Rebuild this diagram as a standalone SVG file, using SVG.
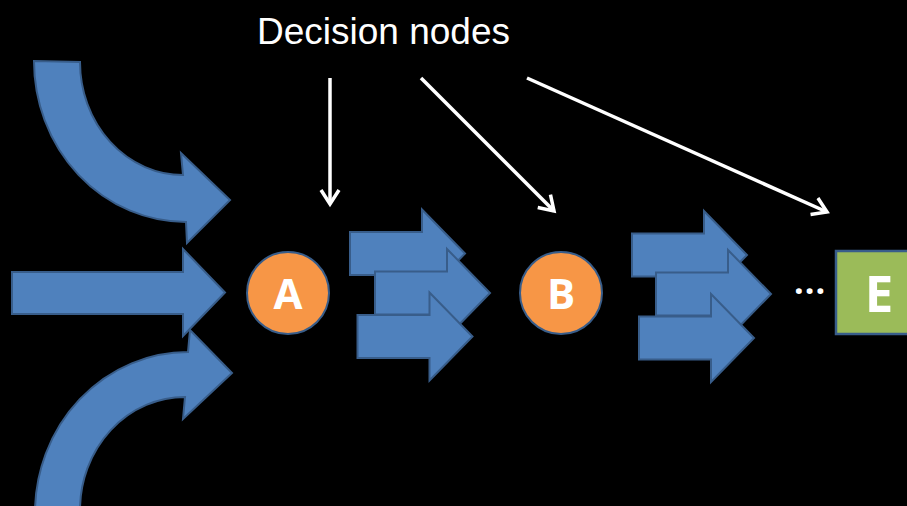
<svg xmlns="http://www.w3.org/2000/svg" xmlns:xlink="http://www.w3.org/1999/xlink" width="907" height="506" viewBox="0 0 907 506">
  <style>
    .flow { fill: #4F81BD; stroke: #385D8A; stroke-width: 2; stroke-linejoin: miter; }
    .pointer { fill: none; stroke: #FFFFFF; stroke-width: 3.5; }
    .node-circle { fill: #F79646; stroke: #385D8A; stroke-width: 2; }
    .node-box { fill: #9BBB59; stroke: #385D8A; stroke-width: 2.5; }
    .node-label { fill: #FFFFFF; font-family: "Open Sans", "Liberation Sans", sans-serif; font-weight: bold; text-anchor: middle; }
    .title { fill: #FFFFFF; font-family: "Liberation Sans", Arial, sans-serif; font-size: 37px; }
  </style>
  <defs>
    <!-- short block arrow used in the transition bundles -->
    <path id="blockArrow" d="M0,-21.5 L72,-21.5 L72,-44 L115,0 L72,44 L72,21.5 L0,21.5 Z"/>
    <marker id="openHead" markerUnits="userSpaceOnUse" markerWidth="20" markerHeight="22" viewBox="0 0 20 22" refX="15" refY="11" orient="auto">
      <path d="M1,2 L15,11 L1,20" fill="none" stroke="#FFFFFF" stroke-width="3.5" stroke-linejoin="miter"/>
    </marker>
  </defs>

  <rect x="0" y="0" width="907" height="506" fill="#000000"/>

  <!-- incoming flows on the left -->
  <g id="inflow-top">
    <path class="flow" d="M34,61 L80,62 A103,113 0 0 0 183,175 L181,153 L230,200 L187,243 L186,222 A152,161 0 0 1 34,61 Z"/>
  </g>
  <g id="inflow-middle">
    <path class="flow" d="M12,272 L183,272 L183,249 L225,292.5 L183,336 L183,314 L12,314 Z"/>
  </g>
  <g id="inflow-bottom">
    <path class="flow" d="M35,520 L35,513 A153,161 0 0 1 188,352 L190,330 L232,373 L183,419 L185,397 A105,113 0 0 0 80,510 L80,520 Z"/>
  </g>

  <!-- transitions A -> B -->
  <g id="bundle-ab">
    <use xlink:href="#blockArrow" class="flow" transform="translate(350,253.5)"/>
    <use xlink:href="#blockArrow" class="flow" transform="translate(375,293)"/>
    <use xlink:href="#blockArrow" class="flow" transform="translate(357.5,336.5)"/>
  </g>

  <!-- transitions B -> ... -->
  <g id="bundle-be">
    <use xlink:href="#blockArrow" class="flow" transform="translate(632,255)"/>
    <use xlink:href="#blockArrow" class="flow" transform="translate(656,294)"/>
    <use xlink:href="#blockArrow" class="flow" transform="translate(639,338)"/>
  </g>

  <g id="node-a">
    <circle class="node-circle" cx="288" cy="293" r="41"/>
    <text class="node-label" x="288" y="309" font-size="42">A</text>
  </g>

  <g id="node-b">
    <circle class="node-circle" cx="561" cy="293" r="41"/>
    <text class="node-label" x="561" y="308.5" font-size="42">B</text>
  </g>

  <g id="ellipsis">
    <text x="794" y="294" fill="#FFFFFF" font-family="Open Sans, Liberation Sans, sans-serif" font-weight="bold" font-size="34" letter-spacing="1">...</text>
  </g>

  <g id="node-e">
    <rect class="node-box" x="836" y="251" width="80" height="83"/>
    <text class="node-label" x="879" y="312" font-size="51">E</text>
  </g>

  <g id="label">
    <text class="title" x="257" y="44">Decision nodes</text>
  </g>

  <g id="connectors">
    <line class="pointer" x1="330" y1="78" x2="330" y2="204" marker-end="url(#openHead)"/>
    <line class="pointer" x1="421" y1="78" x2="554" y2="211" marker-end="url(#openHead)"/>
    <line class="pointer" x1="527" y1="78" x2="827" y2="212" marker-end="url(#openHead)"/>
  </g>
</svg>
